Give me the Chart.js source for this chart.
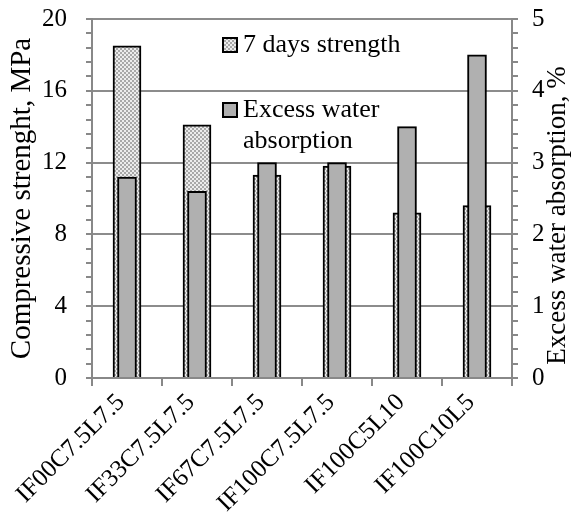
<!DOCTYPE html>
<html>
<head>
<meta charset="utf-8">
<script src="https://cdn.jsdelivr.net/npm/chart.js@4/dist/chart.umd.min.js"></script>
<style>
  html, body { margin: 0; padding: 0; background: #fff; }
  #wrap { width: 576px; height: 520px; }
</style>
</head>
<body>
<div id="wrap"><canvas id="chart"></canvas></div>
<script>
// data
const mixes = ['IF00C7.5L7.5', 'IF33C7.5L7.5', 'IF67C7.5L7.5', 'IF100C7.5L7.5', 'IF100C5L10', 'IF100C10L5'];
const strength7d = [18.5, 14.1, 11.3, 11.8, 9.2, 9.6];      // MPa, left axis
const waterAbsorption = [2.8, 2.6, 3.0, 3.0, 3.5, 4.5];     // %, right axis
const legendLines = [['7 days strength'], ['Excess water', 'absorption']];
const rightTitle = 'Excess water absorption, %';

const FONT = "'Liberation Serif', 'Times New Roman', serif";

// dotted fill for the strength bars
function makePattern() {
    const c = document.createElement('canvas');
    c.width = 4; c.height = 4;
    const g = c.getContext('2d');
    g.fillStyle = '#ececec';
    g.fillRect(0, 0, 4, 4);
    g.fillStyle = '#a8a8a8';
    g.fillRect(0, 0, 2, 2);
    g.fillRect(2, 2, 2, 2);
    return g.createPattern(c, 'repeat');
}
const dots = makePattern();

const isMajor = (v, step) => Math.abs(v / step - Math.round(v / step)) < 1e-6;

// legend inside the plot + right title reading bottom to top
const extras = {
    id: 'extras',
    afterDraw(chart) {
        const ctx = chart.ctx;
        const fills = [dots, '#b0b0b0'];
        const rows = [45, 110];
        ctx.save();
        ctx.font = '26px ' + FONT;
        ctx.textBaseline = 'middle';
        legendLines.forEach((lines, i) => {
            const y = rows[i];
            ctx.fillStyle = fills[i];
            ctx.fillRect(223, y - 7, 14, 14);
            ctx.strokeStyle = '#000';
            ctx.lineWidth = 2;
            ctx.strokeRect(223, y - 7, 14, 14);
            ctx.fillStyle = '#000';
            lines.forEach((t, j) => ctx.fillText(t, 243, y + j * 31));
        });
        const area = chart.chartArea;
        ctx.font = '27px ' + FONT;
        ctx.translate(558, (area.top + area.bottom) / 2 + 17);
        ctx.rotate(-Math.PI / 2);
        ctx.textAlign = 'center';
        ctx.fillText(rightTitle, 0, 0);
        ctx.restore();
    }
};

// keep the plot edges where the picture has them
const noLabelPad = s => { s.paddingTop = 0; s.paddingBottom = 0; };

new Chart(document.getElementById('chart'), {
    type: 'bar',
    data: {
        labels: mixes,
        datasets: [{
            label: 'Excess water absorption',
            data: waterAbsorption,
            yAxisID: 'y1',
            backgroundColor: '#b0b0b0',
            borderColor: '#000',
            borderWidth: 2,
            barThickness: 19,
            grouped: false,
            order: 0
        }, {
            label: '7 days strength',
            data: strength7d,
            yAxisID: 'y',
            backgroundColor: dots,
            borderColor: '#000',
            borderWidth: 2,
            barThickness: 28,
            grouped: false,
            order: 1
        }]
    },
    options: {
        responsive: true,
        maintainAspectRatio: false,
        animation: false,
        layout: { padding: { top: 19, left: 0, right: 0, bottom: 0 } },
        plugins: { legend: { display: false }, tooltip: { enabled: false } },
        scales: {
            x: {
                afterFit: s => { s.height = 142; },
                grid: { drawOnChartArea: false, color: '#888', tickLength: 8, offset: true, lineWidth: 2 },
                border: { color: '#888', width: 2 },
                ticks: { color: '#000', font: { family: FONT, size: 25 }, maxRotation: 45, minRotation: 45, padding: 2, labelOffset: -6 }
            },
            y: {
                position: 'left',
                min: 0, max: 20,
                afterFit: s => { s.width = 92; noLabelPad(s); },
                ticks: {
                    stepSize: 0.8,
                    autoSkip: false,
                    color: '#000',
                    font: { family: FONT, size: 25 },
                    padding: 19,
                    callback: v => isMajor(v, 4) ? Math.round(v) : ''
                },
                grid: {
                    color: c => isMajor(c.tick.value, 4) ? '#8c8c8c' : 'rgba(0,0,0,0)',
                    tickColor: '#888',
                    lineWidth: 2,
                    tickLength: 6
                },
                border: { color: '#888', width: 2 },
                title: { display: true, text: 'Compressive strenght, MPa', color: '#000', font: { family: FONT, size: 29 }, padding: { top: 5, bottom: 0 } }
            },
            y1: {
                position: 'right',
                min: 0, max: 5,
                afterFit: s => { s.width = 64; noLabelPad(s); },
                ticks: {
                    stepSize: 0.2,
                    autoSkip: false,
                    color: '#000',
                    font: { family: FONT, size: 25 },
                    padding: 14,
                    callback: v => isMajor(v, 1) ? Math.round(v) : ''
                },
                grid: { drawOnChartArea: false, tickColor: '#888', lineWidth: 2, tickLength: 6 },
                border: { color: '#888', width: 2 }
            }
        }
    },
    plugins: [extras]
});
</script>
</body>
</html>
